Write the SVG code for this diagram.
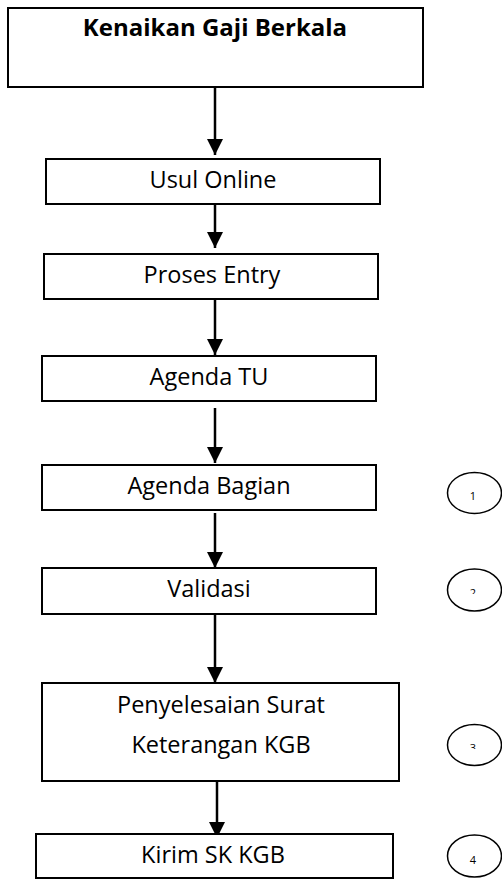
<svg xmlns="http://www.w3.org/2000/svg" width="502" height="879" viewBox="0 0 502 879">
<style>
.box{fill:#fff;stroke:#000;stroke-width:2}
.t{font-family:"Open Sans","Noto Sans","Liberation Sans",sans-serif;font-size:23.5px;fill:#000;text-anchor:middle}
.tb{font-family:"Open Sans","Noto Sans","Liberation Sans",sans-serif;font-size:24px;font-weight:bold;fill:#000;text-anchor:middle}
.n{font-family:"Open Sans","Noto Sans","Liberation Sans",sans-serif;font-size:11px;fill:#000;text-anchor:middle}
.el{fill:#fff;stroke:#000;stroke-width:1.5}
.c{stroke:#000;stroke-width:2.5;fill:none;marker-end:url(#ah)}
</style>
<defs>
<marker id="ah" markerWidth="16" markerHeight="16" viewBox="0 0 16 16" refX="16" refY="8" orient="auto" markerUnits="userSpaceOnUse">
<path d="M0,0 L16,8 L0,16 Z" fill="#000"/>
</marker>
<clipPath id="c2"><rect x="440" y="570" width="70" height="24"/></clipPath>
<clipPath id="c3"><rect x="440" y="725" width="70" height="24"/></clipPath>
</defs>
<rect width="502" height="879" fill="#fff"/>
<g id="connectors">
<line class="c" x1="215" y1="87" x2="215" y2="155"/>
<line class="c" x1="215" y1="204" x2="215" y2="248"/>
<line class="c" x1="215" y1="299" x2="215" y2="355"/>
<line class="c" x1="215" y1="408" x2="215" y2="463"/>
<line class="c" x1="215" y1="513" x2="215" y2="568"/>
<line class="c" x1="215" y1="614" x2="215" y2="683"/>
<line class="c" x1="217" y1="781" x2="217" y2="838"/>
</g>
<g id="title"><rect class="box" x="8" y="8" width="415" height="79"/><text class="tb" x="215" y="36">Kenaikan Gaji Berkala</text></g>
<g id="usul"><rect class="box" x="46" y="159" width="334" height="45"/><text class="t" x="213" y="188">Usul Online</text></g>
<g id="proses"><rect class="box" x="44" y="254" width="334" height="45"/><text class="t" x="212" y="283">Proses Entry</text></g>
<g id="agendatu"><rect class="box" x="42" y="356" width="334" height="45"/><text class="t" x="209" y="385">Agenda TU</text></g>
<g id="agendabagian"><rect class="box" x="42" y="465" width="334" height="45"/><text class="t" x="209" y="494">Agenda Bagian</text></g>
<g id="validasi"><rect class="box" x="42" y="568" width="334" height="46"/><text class="t" x="209" y="597">Validasi</text></g>
<g id="penyelesaian"><rect class="box" x="42" y="683" width="357" height="98"/><text class="t" x="221" y="713">Penyelesaian Surat</text><text class="t" x="221" y="753">Keterangan KGB</text></g>
<g id="kirim"><rect class="box" x="36" y="834" width="357" height="44"/><text class="t" x="213" y="863">Kirim SK KGB</text></g>
<g id="n1"><ellipse class="el" cx="474.5" cy="493" rx="27" ry="20.5"/><text class="n" x="473" y="500">1</text></g>
<g id="n2"><ellipse class="el" cx="474.5" cy="590" rx="27" ry="21"/><text class="n" x="473" y="597" clip-path="url(#c2)">2</text></g>
<g id="n3"><ellipse class="el" cx="474.5" cy="745" rx="27" ry="20.5"/><text class="n" x="473" y="752" clip-path="url(#c3)">3</text></g>
<g id="n4"><ellipse class="el" cx="474.5" cy="856" rx="27" ry="21"/><text class="n" x="473" y="864">4</text></g>
</svg>
